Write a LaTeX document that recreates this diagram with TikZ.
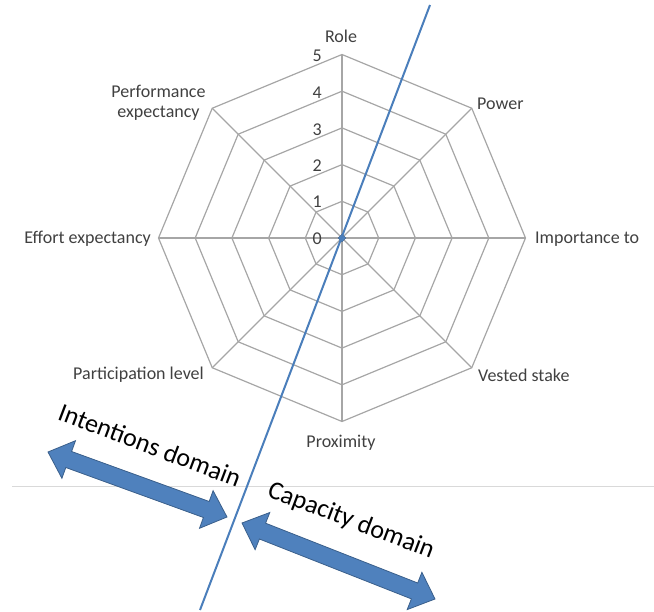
\documentclass[tikz,border=0pt]{standalone}
\usepackage{fontspec}
\setmainfont{Carlito}
\usetikzlibrary{calc,shapes.geometric}
\definecolor{gridgray}{HTML}{A6A6A6}
\definecolor{lblgray}{HTML}{404040}
\definecolor{officeblue}{HTML}{4F81BD}
\definecolor{officeblueedge}{HTML}{3A5F8B}
\definecolor{lineblue}{HTML}{4A7EBB}
\begin{document}
\begin{tikzpicture}[x=1pt,y=-1pt,
  gridline/.style={draw=gridgray,line width=1.2pt},
  axlabel/.style={text=lblgray,font=\fontsize{18}{20}\selectfont,inner sep=1pt},
  numlabel/.style={text=lblgray,font=\fontsize{18}{20}\selectfont,inner sep=1pt,anchor=east},
  domainlabel/.style={text=black,font=\fontsize{26}{30}\selectfont,inner sep=0pt,rotate=-20.8},
  bigarrow/.style={fill=officeblue,draw=officeblueedge,line width=0.8pt,line join=miter}]
\useasboundingbox (0,0) rectangle (654,612);
% faint horizontal rule
\coordinate (hl) at (12,486);
\coordinate (hr) at (654,486);
\draw[draw=black!15,line width=0.8pt] (hl) -- (hr);
% radar grid
\coordinate (c) at (342,238);
\foreach \r in {36.7,73.4,110.1,146.8,183.5}{
  \draw[gridline] ($(c)+(90:\r)$) \foreach \a in {45,0,-45,-90,-135,-180,-225}{ -- ($(c)+(\a:\r)$)} -- cycle;
}
\foreach \a in {90,45,0,-45,-90,-135,-180,-225}{
  \draw[gridline] (c) -- ++(\a:183.5);
}
% axis labels
\node[axlabel] (role) at (341,36) {Role};
\node[axlabel,anchor=west] (power) at (476,104) {Power};
\node[axlabel,anchor=west] (imp) at (534,239) {Importance to};
\node[axlabel,anchor=west] (vest) at (477,375) {Vested stake};
\node[axlabel] (prox) at (341,443) {Proximity};
\node[axlabel,anchor=east] (part) at (205,375) {Participation level};
\node[axlabel,anchor=east] (eff) at (152,239) {Effort expectancy};
\node[axlabel,align=center] (perf) at (158.5,103) {Performance\\expectancy};
% scale numbers
\node[numlabel] (n5) at (323,56) {5};
\node[numlabel] (n4) at (323,93) {4};
\node[numlabel] (n3) at (323,130) {3};
\node[numlabel] (n2) at (323,166) {2};
\node[numlabel] (n1) at (323,202) {1};
\node[numlabel] (n0) at (323,239) {0};
% data series (all zero)
\node[diamond,fill=officeblue,draw=officeblueedge,minimum size=8pt,inner sep=0pt] (dot) at (c) {};
% dividing line
\coordinate (lt) at (430,5);
\coordinate (lb) at (200,610);
\draw[lineblue,line width=2pt] (lt) -- (lb);
% double arrows
\draw[bigarrow] (48,452) -- (75.5,440.7) -- (71.6,451.5) -- (209.2,501.5) -- (213.1,490.7)
  -- (227,517) -- (199.5,528.3) -- (203.4,517.5) -- (65.8,467.5) -- (61.9,478.3) -- cycle;
\draw[bigarrow] (242,523) -- (269.8,512.5) -- (265.6,523.2) -- (417.7,583.0) -- (421.9,572.3)
  -- (435,599) -- (407.2,609.6) -- (411.4,598.9) -- (259.4,539.0) -- (255.1,549.7) -- cycle;
% domain labels
\node[domainlabel] (intent) at (150,445) {Intentions domain};
\node[domainlabel] (capac) at (351,521) {Capacity domain};
\end{tikzpicture}
\end{document}
